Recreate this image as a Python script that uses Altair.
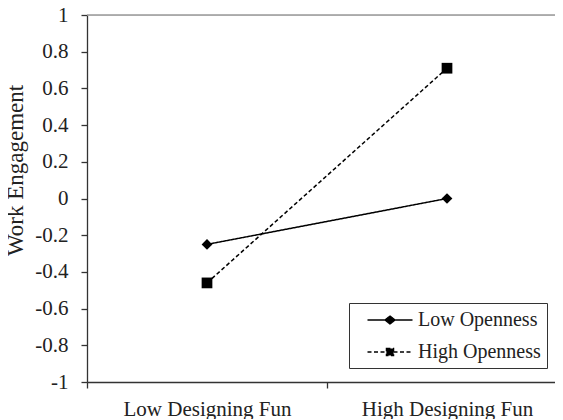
import altair as alt
import pandas as pd

# ---- data ----
categories = ["Low Designing Fun", "High Designing Fun"]
series = ["Low Openness", "High Openness"]
low_openness = [-0.25, 0.0]
high_openness = [-0.46, 0.71]
y_ticks = [-1, -0.8, -0.6, -0.4, -0.2, 0, 0.2, 0.4, 0.6, 0.8, 1]
y_top = [1]

rows = []
for cat, v in zip(categories, low_openness):
    rows.append({"fun": cat, "series": series[0], "value": v})
for cat, v in zip(categories, high_openness):
    rows.append({"fun": cat, "series": series[1], "value": v})
df = pd.DataFrame(rows)
df_top = pd.DataFrame({"value": y_top})

FONT = "Liberation Serif"
TEXT = "#222222"
AXIS = "#333333"

# legend symbols: a line with the marker in its middle
path_low = "M-2.25,0L2.25,0M0,-0.4L0.5,0L0,0.4L-0.5,0Z"
path_high = "M-2.25,0L2.25,0M-0.36,-0.36L0.36,-0.36L0.36,0.36L-0.36,0.36Z"
dash_range = [[1, 0], [4, 2.5]]

x_scale = alt.Scale(domain=categories, range=[0, 480], paddingInner=0, paddingOuter=0)
x_axis = alt.Axis(
    title=None,
    labelAngle=0,
    labelFont=FONT,
    labelFontSize=21,
    labelColor=TEXT,
    labelPadding=10,
    tickBand="extent",
    tickSize=6,
    tickColor=AXIS,
    domainColor=AXIS,
    domainWidth=1.3,
    tickWidth=1.3,
    grid=False,
)
y_scale = alt.Scale(domain=[-1, 1], nice=False, zero=False)
y_axis = alt.Axis(
    title="Work Engagement",
    values=y_ticks,
    labelExpr="'' + round(datum.value * 10) / 10",
    labelOverlap=False,
    labelFont=FONT,
    labelFontSize=21,
    labelColor=TEXT,
    labelPadding=13,
    tickSize=6,
    tickColor=AXIS,
    domainColor=AXIS,
    domainWidth=1.3,
    tickWidth=1.3,
    grid=False,
    titleFont=FONT,
    titleFontSize=23,
    titleFontWeight="normal",
    titleColor=TEXT,
    titleAngle=270,
    titleX=-72,
    titleY=155,
    titleAlign="center",
    titleBaseline="middle",
)

x_enc = alt.X("fun:N", sort=categories, scale=x_scale, axis=x_axis)
y_enc = alt.Y("value:Q", scale=y_scale, axis=y_axis)

base = alt.Chart(df)

lines = base.mark_line(color="black", strokeWidth=1.5).encode(
    x=x_enc,
    y=y_enc,
    strokeDash=alt.StrokeDash(
        "series:N", scale=alt.Scale(domain=series, range=dash_range), legend=None
    ),
)

points = base.mark_point(filled=True, color="black", opacity=1, size=115).encode(
    x=x_enc,
    y=y_enc,
    shape=alt.Shape(
        "series:N", scale=alt.Scale(domain=series, range=["diamond", "square"]), legend=None
    ),
)

top_rule = alt.Chart(df_top).mark_rule(color="#999999", strokeWidth=1.5).encode(
    y=alt.Y("value:Q", scale=y_scale, axis=y_axis)
)

leg = alt.Legend(
    title=None,
    orient="none",
    legendX=262,
    legendY=288,
    direction="vertical",
    padding=6,
    strokeColor=AXIS,
    labelFont=FONT,
    labelFontSize=20,
    labelColor=TEXT,
    labelOffset=17,
    symbolOffset=24,
    rowPadding=11,
    symbolSize=400,
    symbolStrokeWidth=1.3,
    labelExpr="datum.label + ' '",
)

legend_layer = (
    base.transform_filter("false")
    .mark_point(filled=False, fill="black", stroke="black", strokeWidth=1.3, size=400, opacity=1)
    .encode(
        x=x_enc,
        y=y_enc,
        shape=alt.Shape("series:N", scale=alt.Scale(domain=series, range=[path_low, path_high]), legend=leg),
        strokeDash=alt.StrokeDash("series:N", scale=alt.Scale(domain=series, range=dash_range), legend=leg),
    )
)

chart = (
    alt.layer(lines, points, top_rule, legend_layer)
    .resolve_scale(shape="independent", strokeDash="independent")
    .properties(
        width=468,
        height=367,
        autosize=alt.AutoSizeParams(type="none"),
        padding={"left": 79, "top": 7, "right": 0, "bottom": 37},
    )
    .configure_view(stroke=None)
    .configure(background="white")
)

chart.save("out.html", embed_options={"renderer": "svg", "actions": False})
